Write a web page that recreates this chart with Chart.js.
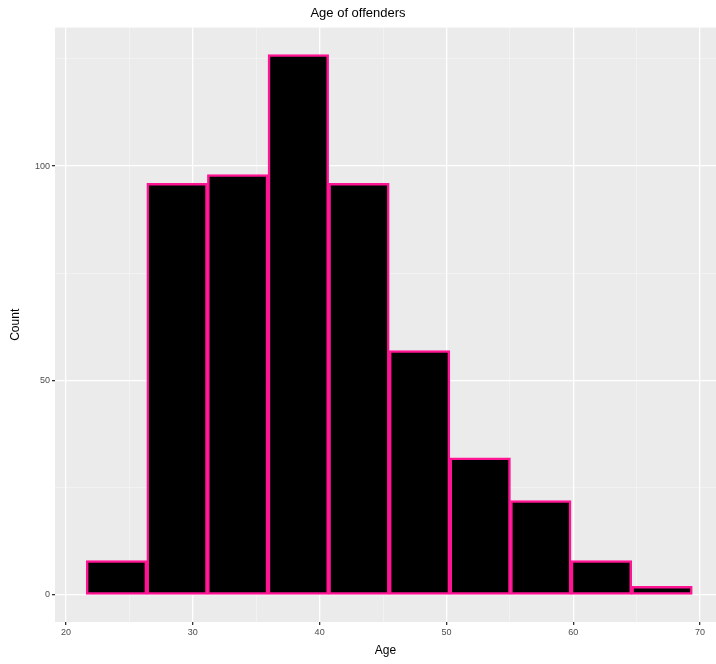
<!DOCTYPE html>
<html>
<head>
<meta charset="utf-8">
<script src="https://cdn.jsdelivr.net/npm/chart.js@4/dist/chart.umd.min.js"></script>
<style>
  html, body { margin: 0; padding: 0; background: #ffffff; }
  #wrap { width: 716px; height: 664px; }
</style>
</head>
<body>
<div id="wrap"><canvas id="c" width="716" height="664"></canvas></div>
<script>
// Histogram bins (centres of each age bin) and counts
const binCenters = [23.98, 28.76, 33.54, 38.32, 43.10, 47.88, 52.66, 57.44, 62.22, 67.00];
const counts     = [8, 96, 98, 126, 96, 57, 32, 22, 8, 2];
const xTickLabels = [20, 30, 40, 50, 60, 70];
const yTickLabels = [0, 50, 100];

const titleText = 'Age of offenders';
const xTitle = 'Age';
const yTitle = 'Count';

const panelBg = {
  id: 'panelBg',
  beforeDraw(chart) {
    const a = chart.chartArea, ctx = chart.ctx;
    ctx.save();
    ctx.fillStyle = '#EBEBEB';
    ctx.fillRect(a.left, a.top, a.right - a.left, a.bottom - a.top);
    ctx.restore();
  }
};

const points = binCenters.map((x, i) => ({ x: x, y: counts[i] }));

function isMajor(v, list) { return list.some(t => Math.abs(t - v) < 1e-6); }
function tickMajor(ctx, list) { return ctx && ctx.tick ? isMajor(ctx.tick.value, list) : false; }

new Chart(document.getElementById('c'), {
  type: 'bar',
  data: {
    datasets: [{
      data: points,
      backgroundColor: '#000000',
      borderColor: '#FF1493',
      borderWidth: 2.5,
      borderSkipped: false,
      barPercentage: 1.0,
      categoryPercentage: 1.0
    }]
  },
  options: {
    responsive: false,
    animation: false,
    layout: { padding: { left: 0, right: 0, top: 0, bottom: 0 } },
    plugins: {
      legend: { display: false },
      tooltip: { enabled: false },
      title: {
        display: true,
        text: titleText,
        color: '#000000',
        font: { family: 'Liberation Sans, Arial, sans-serif', size: 13, weight: 'normal' },
        padding: { top: 6, bottom: 6 }
      }
    },
    scales: {
      x: {
        type: 'linear',
        min: 19.13,
        max: 71.26,
        offset: false,
        afterBuildTicks(scale) {
          const t = [];
          for (let v = 20; v <= 70; v += 5) t.push({ value: v });
          scale.ticks = t;
        },
        afterFit(scale) { scale.height = 42; },
        border: { display: false },
        grid: {
          offset: false,
          color: ctx => tickMajor(ctx, xTickLabels) ? '#FFFFFF' : 'rgba(255,255,255,0.55)',
          lineWidth: ctx => tickMajor(ctx, xTickLabels) ? 1.3 : 0.7,
          tickColor: ctx => tickMajor(ctx, xTickLabels) ? '#333333' : 'rgba(0,0,0,0)',
          tickLength: 3,
          drawTicks: true
        },
        ticks: {
          autoSkip: false,
          maxRotation: 0,
          padding: 2,
          color: '#4D4D4D',
          font: { family: 'Liberation Sans, Arial, sans-serif', size: 9 },
          callback: v => isMajor(v, xTickLabels) ? String(v) : ''
        },
        title: {
          display: true,
          text: xTitle,
          color: '#000000',
          font: { family: 'Liberation Sans, Arial, sans-serif', size: 12 },
          padding: { top: 2, bottom: 6 }
        }
      },
      y: {
        type: 'linear',
        min: -6.3,
        max: 132.3,
        afterBuildTicks(scale) {
          const t = [];
          for (let v = 0; v <= 125; v += 25) t.push({ value: v });
          scale.ticks = t;
        },
        afterFit(scale) { scale.width = 55; },
        border: { display: false },
        grid: {
          offset: false,
          color: ctx => tickMajor(ctx, yTickLabels) ? '#FFFFFF' : 'rgba(255,255,255,0.55)',
          lineWidth: ctx => tickMajor(ctx, yTickLabels) ? 1.3 : 0.7,
          tickColor: ctx => tickMajor(ctx, yTickLabels) ? '#333333' : 'rgba(0,0,0,0)',
          tickLength: 3,
          drawTicks: true
        },
        ticks: {
          autoSkip: false,
          padding: 2,
          color: '#4D4D4D',
          font: { family: 'Liberation Sans, Arial, sans-serif', size: 9 },
          callback: v => isMajor(v, yTickLabels) ? String(v) : ''
        },
        title: {
          display: true,
          text: yTitle,
          color: '#000000',
          font: { family: 'Liberation Sans, Arial, sans-serif', size: 12 },
          padding: { top: 8, bottom: 4 }
        }
      }
    }
  },
  plugins: [panelBg]
});
</script>
</body>
</html>
